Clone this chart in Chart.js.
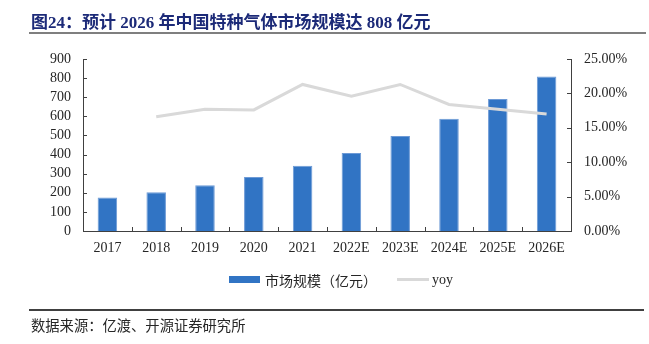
<!DOCTYPE html>
<html>
<head>
<meta charset="utf-8">
<script src="https://cdn.jsdelivr.net/npm/chart.js@4.4.1/dist/chart.umd.min.js"></script>
<style>
  html, body { margin: 0; padding: 0; background: #fff; }
  #wrap { position: relative; width: 649px; height: 344px; overflow: hidden; }
  #chart { position: absolute; left: 0; top: 0; }
  .title {
    position: absolute; left: 31px; top: 8px;
    font-family: "Liberation Serif", "Noto Sans CJK SC", serif;
    font-weight: bold; font-size: 17px; color: #1c2a78; white-space: nowrap;
  }
  .title .cjk { font-family: "Noto Sans CJK SC", sans-serif; }
  .rule { position: absolute; height: 2px; }
  .legend { position: absolute; top: 270px; height: 18px; font-size: 14px; color: #262626; }
  .legend .item { position: absolute; top: 0; white-space: nowrap; line-height: 18px; }
  .source {
    position: absolute; left: 31px; top: 314px; font-size: 14.3px; color: #262626;
    font-family: "Noto Sans CJK SC", sans-serif; white-space: nowrap;
  }
</style>
</head>
<body>
<div id="wrap">
  <canvas id="chart" width="649" height="344"></canvas>
  <div class="title"><span class="cjk">图</span>24<span class="cjk">：预计</span> 2026 <span class="cjk">年中国特种气体市场规模达</span> 808 <span class="cjk">亿元</span></div>
  <div class="rule" style="left:29px; top:32px; width:617px; background:#7f7f7f;"></div>
  <div class="legend">
    <div class="item" style="left:229px;"><span style="display:inline-block;width:31px;height:7px;background:#3174c4;vertical-align:middle;margin-right:5px;"></span><span style="font-family:'Noto Sans CJK SC',sans-serif;vertical-align:middle;">市场规模（亿元）</span></div>
    <div class="item" style="left:397px;"><span style="display:inline-block;width:32px;height:3px;background:#d9d9d9;vertical-align:middle;margin-right:3px;"></span><span style="font-family:'Liberation Serif',serif;font-size:14px;vertical-align:middle;">yoy</span></div>
  </div>
  <div class="rule" style="left:29px; top:309px; width:615px; background:#404040;"></div>
  <div class="source">数据来源：亿渡、开源证券研究所</div>
</div>
<script>
// Years (E = estimate)
const categories = ['2017', '2018', '2019', '2020', '2021', '2022E', '2023E', '2024E', '2025E', '2026E'];
// Market size, 100 million yuan
const marketSize = [175, 203, 240, 282, 341, 408, 497, 587, 691, 808];
// Year-on-year growth, %
const yoy = [null, 16.6, 17.7, 17.6, 21.3, 19.6, 21.3, 18.4, 17.7, 17.0];
// Axis ticks
const leftTicks = [0, 100, 200, 300, 400, 500, 600, 700, 800, 900];
const rightTicks = [0, 5, 10, 15, 20, 25];

const axisColor = '#404040';
const serif = "'Liberation Serif', 'Times New Roman', serif";

// Short tick marks that point into the plot area
const innerTicks = {
  id: 'innerTicks',
  afterDraw(chart) {
    const { ctx, chartArea: a, scales } = chart;
    const len = 4;
    ctx.save();
    ctx.strokeStyle = axisColor;
    ctx.lineWidth = 1;
    ctx.beginPath();
    scales.y.ticks.forEach(t => {
      const p = Math.round(scales.y.getPixelForValue(t.value)) + 0.5;
      ctx.moveTo(a.left, p); ctx.lineTo(a.left + len, p);
    });
    scales.y1.ticks.forEach(t => {
      const p = Math.round(scales.y1.getPixelForValue(t.value)) + 0.5;
      ctx.moveTo(a.right - len, p); ctx.lineTo(a.right, p);
    });
    for (let i = 0; i < categories.length - 1; i++) {
      const p = Math.round((scales.x.getPixelForValue(i) + scales.x.getPixelForValue(i + 1)) / 2) + 0.5;
      ctx.moveTo(p, a.bottom - len); ctx.lineTo(p, a.bottom);
    }
    ctx.stroke();
    ctx.restore();
  }
};

new Chart(document.getElementById('chart'), {
  data: {
    labels: categories,
    datasets: [
      {
        type: 'line', label: 'yoy', data: yoy, yAxisID: 'y1',
        borderColor: '#d9d9d9', borderWidth: 3, pointRadius: 0,
        tension: 0, order: 0, spanGaps: false
      },
      {
        type: 'bar', label: '市场规模（亿元）', data: marketSize, yAxisID: 'y',
        backgroundColor: '#3174c4',
        borderColor: '#6d9ad6', borderWidth: { top: 1, left: 1, right: 1, bottom: 0 },
        borderSkipped: 'bottom',
        categoryPercentage: 0.8, barPercentage: 0.5, order: 1
      }
    ]
  },
  plugins: [innerTicks],
  options: {
    responsive: false,
    animation: false,
    events: [],
    layout: { padding: { top: 59, bottom: 83, left: 0, right: 0 } },
    plugins: { legend: { display: false }, tooltip: { enabled: false }, title: { display: false } },
    scales: {
      x: {
        offset: true,
        grid: { display: false, drawTicks: false },
        border: { display: true, color: axisColor, width: 1 },
        ticks: { color: '#262626', font: { family: serif, size: 14 }, padding: 9, maxRotation: 0, autoSkip: false },
        afterFit(s) { s.height = 30; }
      },
      y: {
        position: 'left', min: 0, max: 900,
        afterBuildTicks(s) { s.ticks = leftTicks.map(v => ({ value: v })); },
        grid: { display: false, drawTicks: false },
        border: { display: true, color: axisColor, width: 1 },
        ticks: { color: '#262626', font: { family: serif, size: 14 }, padding: 12, autoSkip: false },
        afterFit(s) { s.width = 83; }
      },
      y1: {
        position: 'right', min: 0, max: 25,
        afterBuildTicks(s) { s.ticks = rightTicks.map(v => ({ value: v })); },
        grid: { display: false, drawTicks: false },
        border: { display: true, color: axisColor, width: 1 },
        ticks: { color: '#262626', font: { family: serif, size: 14 }, padding: 13, autoSkip: false,
                 callback: v => v.toFixed(2) + '%' },
        afterFit(s) { s.width = 78; }
      }
    }
  }
});
</script>
</body>
</html>
